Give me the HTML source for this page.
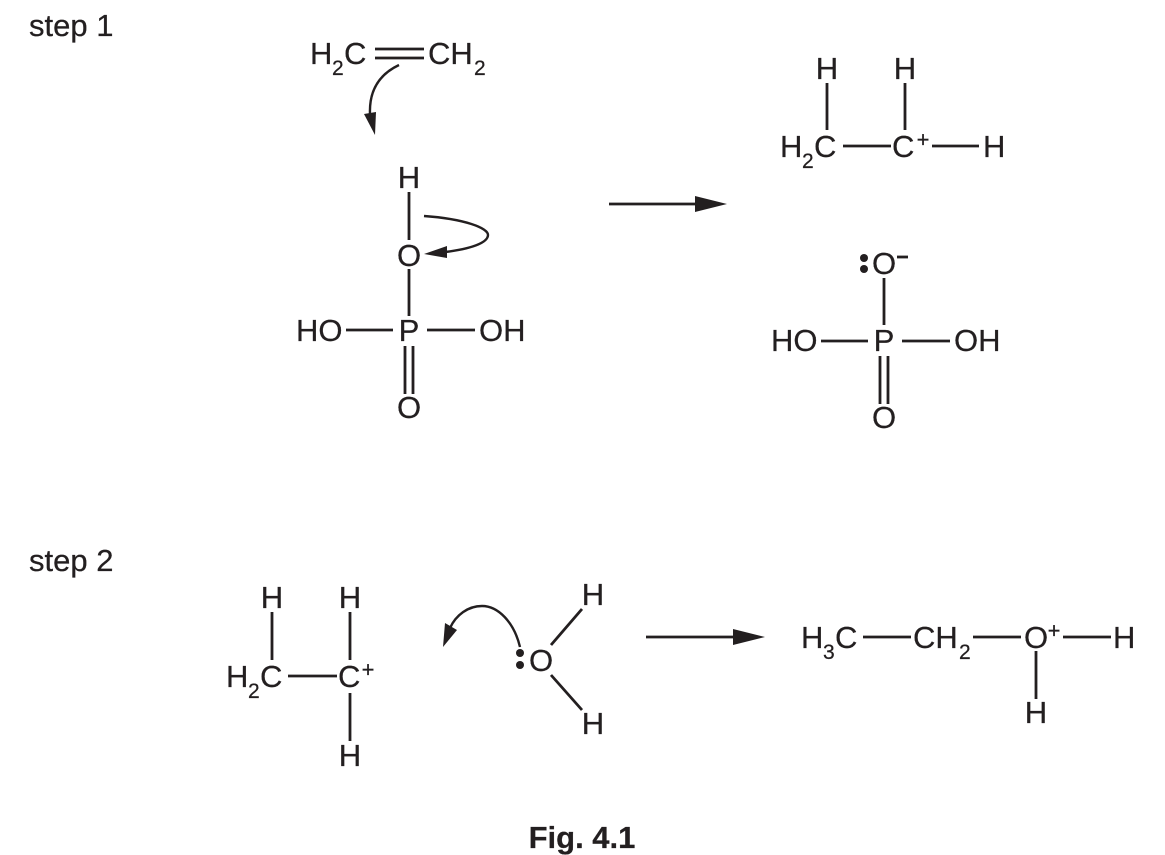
<!DOCTYPE html>
<html>
<head>
<meta charset="utf-8">
<style>
html,body{margin:0;padding:0;background:#fff;width:1165px;height:855px;overflow:hidden}
svg{display:block}
text{font-family:"Liberation Sans",sans-serif;font-size:31px;fill:#231f20;stroke:#231f20;stroke-width:.25}
.s{font-size:21px}
.sup{font-size:22px}
.b{stroke:#231f20;stroke-width:2.8;fill:none}
.a{stroke:#231f20;stroke-width:2.4;fill:none}
.h{fill:#231f20;stroke:none}
</style>
</head>
<body>
<svg width="1165" height="855" viewBox="0 0 1165 855" xmlns="http://www.w3.org/2000/svg">
<text x="29" y="36">step 1</text>
<text x="29" y="571">step 2</text>
<text x="582" y="848" text-anchor="middle" style="font-weight:bold;font-size:31px">Fig. 4.1</text>

<!-- ethene -->
<text x="310" y="64">H</text><text x="332" y="75" class="s">2</text><text x="344" y="64">C</text>
<text x="428" y="64">CH</text><text x="474" y="75" class="s">2</text>
<path class="b" d="M375 49H424M375 58H424"/>
<path class="a" d="M399 65C380 74 369 90 370 114"/>
<path class="h" d="M364 114L376 112L375 135Z"/>

<!-- H3PO4 left -->
<text x="409" y="188" text-anchor="middle">H</text>
<path class="b" d="M409 192V240"/>
<text x="409" y="266" text-anchor="middle">O</text>
<path class="b" d="M409 269V316"/>
<path class="a" d="M424 216C465 219 488 228 488 235C488 243 470 249 445 252"/>
<path class="h" d="M424 254L447 246L447 258Z"/>
<text x="296" y="341">HO</text>
<path class="b" d="M346 330H393"/>
<text x="409" y="341" text-anchor="middle">P</text>
<path class="b" d="M427 330H475"/>
<text x="479" y="341">OH</text>
<path class="b" d="M405 346V394M413 346V394"/>
<text x="409" y="418" text-anchor="middle">O</text>

<!-- main arrows -->
<path class="b" d="M609 204H700"/>
<path class="h" d="M695 196L727 204L695 212Z"/>
<path class="b" d="M646 637H738"/>
<path class="h" d="M733 629L765 637L733 645Z"/>

<!-- carbocation top right -->
<text x="827" y="79" text-anchor="middle">H</text>
<text x="905" y="79" text-anchor="middle">H</text>
<path class="b" d="M827 83V130M905 83V130"/>
<text x="780" y="157">H</text><text x="802" y="168" class="s">2</text><text x="814" y="157">C</text>
<path class="b" d="M843 146H891"/>
<text x="892" y="157">C</text><text x="923" y="147" text-anchor="middle" class="sup">+</text>
<path class="b" d="M932 146H979"/>
<text x="983" y="157">H</text>

<!-- phosphate right -->
<circle class="h" cx="864" cy="258" r="4"/><circle class="h" cx="864" cy="269" r="4"/>
<text x="884" y="274" text-anchor="middle">O</text>
<path class="b" d="M897 257H908"/>
<path class="b" d="M884 278V325"/>
<text x="771" y="351">HO</text>
<path class="b" d="M821 341H868"/>
<text x="884" y="351" text-anchor="middle">P</text>
<path class="b" d="M902 341H950"/>
<text x="954" y="351">OH</text>
<path class="b" d="M880 356V404M888 356V404"/>
<text x="884" y="428" text-anchor="middle">O</text>

<!-- carbocation step 2 -->
<text x="272" y="608" text-anchor="middle">H</text>
<text x="350" y="608" text-anchor="middle">H</text>
<path class="b" d="M272 612V660M350 612V660"/>
<text x="226" y="687">H</text><text x="248" y="698" class="s">2</text><text x="260" y="687">C</text>
<path class="b" d="M288 676H337"/>
<text x="338" y="687">C</text><text x="368" y="677" text-anchor="middle" class="sup">+</text>
<path class="b" d="M350 693V741"/>
<text x="350" y="766" text-anchor="middle">H</text>

<!-- water -->
<path class="a" d="M520 647C514 622 498 606 482 606C468 606 456 615 450 628"/>
<path class="h" d="M443 647L445 623L457 630Z"/>
<circle class="h" cx="520" cy="653" r="4"/><circle class="h" cx="520" cy="665" r="4"/>
<text x="541" y="671" text-anchor="middle">O</text>
<path class="b" d="M551 645L582 609M551 675L582 710"/>
<text x="593" y="605" text-anchor="middle">H</text>
<text x="593" y="734" text-anchor="middle">H</text>

<!-- product -->
<text x="801" y="648">H</text><text x="823" y="659" class="s">3</text><text x="835" y="648">C</text>
<path class="b" d="M863 637H911"/>
<text x="913" y="648">CH</text><text x="959" y="659" class="s">2</text>
<path class="b" d="M973 637H1021"/>
<text x="1036" y="648" text-anchor="middle">O</text><text x="1054" y="638" text-anchor="middle" class="sup">+</text>
<path class="b" d="M1063 637H1111"/>
<text x="1113" y="648">H</text>
<path class="b" d="M1036 651V699"/>
<text x="1036" y="723" text-anchor="middle">H</text>
</svg>
</body>
</html>
